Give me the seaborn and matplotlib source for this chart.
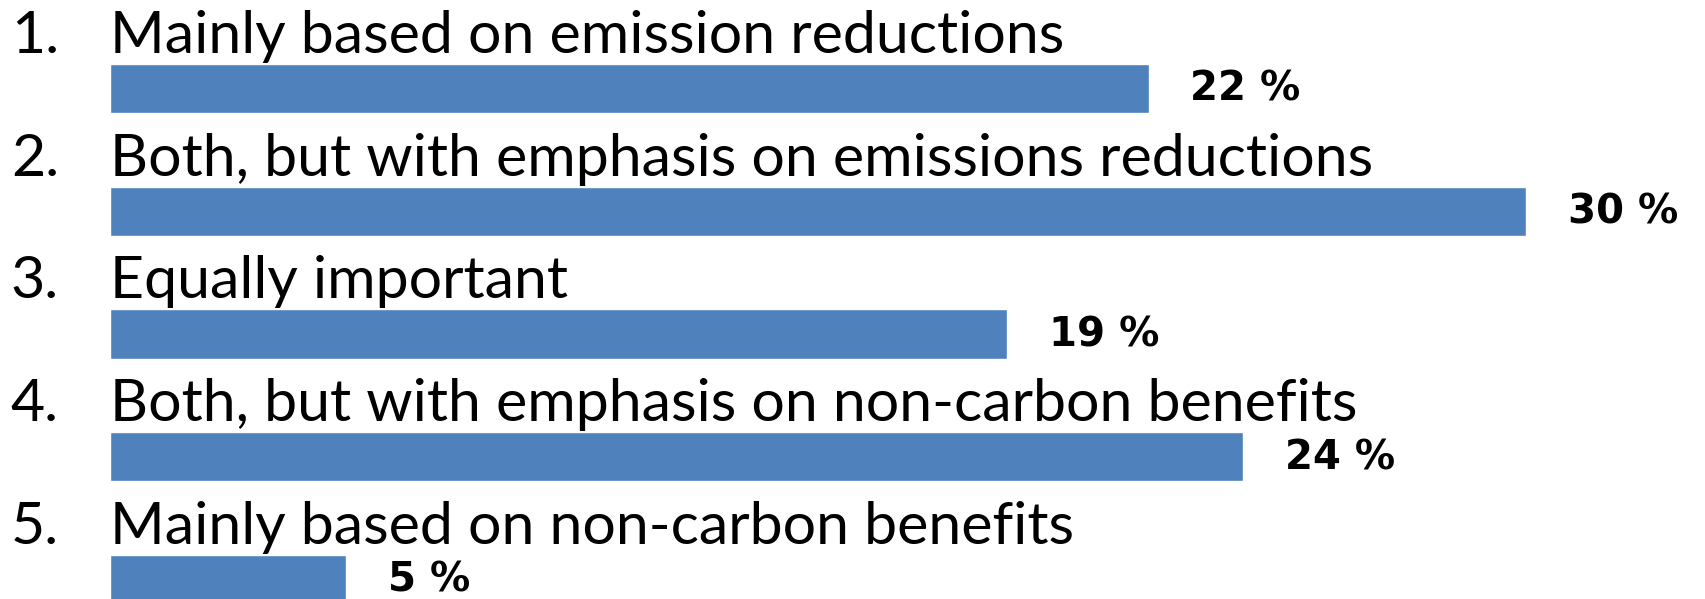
import pandas as pd
import seaborn as sns
import matplotlib.pyplot as plt

# Survey answers and share of respondents (%)
numbers = ['1.', '2.', '3.', '4.', '5.']
answers = [
    'Mainly based on emission reductions',
    'Both, but with emphasis on emissions reductions',
    'Equally important',
    'Both, but with emphasis on non-carbon benefits',
    'Mainly based on non-carbon benefits',
]
shares = [22, 30, 19, 24, 5]
share_labels = ['22 %', '30 %', '19 %', '24 %', '5 %']

data = pd.DataFrame({'answer': answers, 'share': shares})

sns.set_style('white')

fig = plt.figure(figsize=(17.06, 5.99), dpi=100)
ax = fig.add_axes([0, 0, 1, 1])

sns.barplot(x='share', y='answer', data=data, orient='h', color='#4F81BD',
            saturation=1, width=0.4, ax=ax)

# Percent labels to the right of each bar
for i, (v, lab) in enumerate(zip(shares, share_labels)):
    ax.annotate(lab, xy=(v, i), xytext=(30, -1), textcoords='offset points',
                ha='left', va='center', fontsize=29, fontweight='bold',
                family='DejaVu Sans', color='black')

# Answer text sits above each bar, number in the left margin
for i, (num, text) in enumerate(zip(numbers, answers)):
    ax.text(-2.10, i - 0.29, num, fontsize=42.5, family='Lato',
            ha='left', va='baseline', color='black')
    ax.text(0, i - 0.29, text, fontsize=42.5, family='Lato',
            ha='left', va='baseline', color='black')

ax.set_xlim(-2.33, 33.81)
ax.set_ylim(4.159, -0.721)
ax.axis('off')

fig.savefig('out.png', dpi=100)
